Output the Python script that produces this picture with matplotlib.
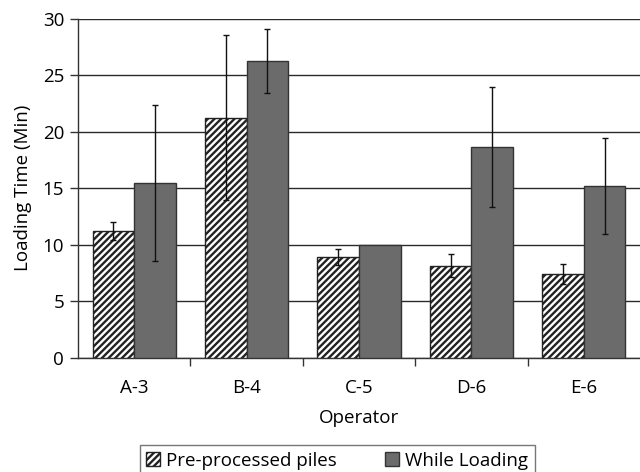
import matplotlib
matplotlib.use("Agg")
import matplotlib.pyplot as plt
import numpy as np

plt.rcParams['font.family'] = ['Open Sans', 'DejaVu Sans']
plt.rcParams['hatch.linewidth'] = 1.7

operators = ["A-3", "B-4", "C-5", "D-6", "E-6"]
pre_processed = [11.25, 21.25, 8.9, 8.15, 7.4]
pre_err = [0.8, 7.25, 0.7, 1.0, 0.87]
while_loading = [15.5, 26.25, 10.0, 18.65, 15.2]
while_err = [6.9, 2.8, 0.0, 5.3, 4.25]
series_names = ["Pre-processed piles", "While Loading"]
yticks = [0, 5, 10, 15, 20, 25, 30]

FS = 13.5

fig = plt.figure(figsize=(6.4, 4.72), dpi=100)
ax = fig.add_axes([78/640, 1 - 358/472, 562/640, (358 - 18.5)/472])

x = np.arange(len(operators))
w = 0.37
ax.bar(x - w/2, pre_processed, w, color="white", edgecolor="#222222",
       hatch="/////", linewidth=1.0, label=series_names[0], zorder=3)
ax.bar(x + w/2, while_loading, w, color="#6b6b6b", edgecolor="#333333",
       linewidth=1.0, label=series_names[1], zorder=3)
ax.errorbar(x - w/2, pre_processed, yerr=pre_err, fmt="none", ecolor="#111111",
            elinewidth=1.0, capsize=2.3, capthick=1.0, zorder=4)
mask = np.array(while_err) > 0
ax.errorbar((x + w/2)[mask], np.array(while_loading)[mask], yerr=np.array(while_err)[mask],
            fmt="none", ecolor="#111111", elinewidth=1.0, capsize=2.3, capthick=1.0, zorder=4)

ax.set_xlim(-0.5, len(operators) - 0.5)
ax.set_ylim(0, 30)
ax.set_yticks(yticks)
ax.yaxis.grid(True, color="#2a2a2a", linewidth=1.0, zorder=0)
ax.set_axisbelow(True)

ax.set_xticks(x)
ax.set_xticklabels(operators, fontsize=FS)
ax.tick_params(axis="x", which="major", length=0, pad=15)
ax.set_xticks(np.arange(0.5, len(operators) - 0.5, 1.0), minor=True)
ax.tick_params(axis="x", which="minor", length=6, width=1, color="#333333", direction="out")
ax.tick_params(axis="y", length=6, width=1, color="#333333", labelsize=FS, pad=4)

for s in ["top", "right"]:
    ax.spines[s].set_visible(False)
for s in ["left", "bottom"]:
    ax.spines[s].set_color("#333333")
    ax.spines[s].set_linewidth(1.0)

ax.set_ylabel("Loading Time (Min)", fontsize=FS, labelpad=8)
ax.set_xlabel("Operator", fontsize=FS, labelpad=9)

leg = fig.legend(loc="upper center", bbox_to_anchor=(337/640, 1 - 445/472), ncol=2,
                 frameon=True, fancybox=False, edgecolor="#555555", fontsize=FS,
                 handlelength=0.75, handleheight=0.75, handletextpad=0.3,
                 columnspacing=2.6, borderpad=0.35, borderaxespad=0)
leg.get_frame().set_linewidth(1.0)

fig.savefig("out.png", dpi=100)
